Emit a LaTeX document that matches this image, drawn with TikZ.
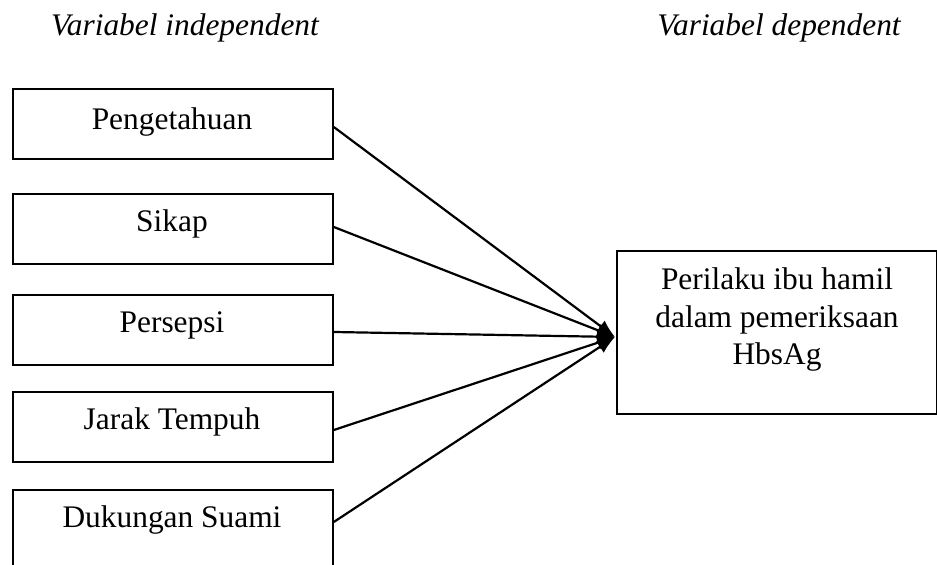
\documentclass[tikz,border=0pt]{standalone}
\usepackage{fontspec}
\setmainfont{Liberation Serif}
\usetikzlibrary{arrows.meta,calc}
\begin{document}
\begin{tikzpicture}[x=0.5pt,y=-0.5pt,
  box/.style={draw=black,line width=0.9pt,minimum width=160pt,minimum height=35pt,inner sep=0pt,anchor=north west},
  lbl/.style={anchor=base,inner sep=0pt,font=\fontsize{15.7}{18.75}\selectfont},
  hdr/.style={anchor=base,inner sep=0pt,font=\fontsize{15.7}{18.75}\selectfont\itshape},
  arr/.style={line width=1.1pt,-{Latex[length=9pt,width=7pt]}}]
\useasboundingbox (0,0) rectangle (937,565);
\clip (0,0) rectangle (937,565);
\node[hdr] (h1) at (185,36) {Variabel independent};
\node[hdr] (h2) at (779,36) {Variabel dependent};
\node[box] (b1) at (12,88) {};
\node[box] (b2) at (12,193) {};
\node[box] (b3) at (12,294) {};
\node[box] (b4) at (12,391) {};
\node[box,minimum height=55.5pt] (b5) at (12,489) {};
\node[lbl] (t1) at (172,130) {Pengetahuan};
\node[lbl] (t2) at (172,232) {Sikap};
\node[lbl] (t3) at (172,333) {Persepsi};
\node[lbl] (t4) at (172,430) {Jarak Tempuh};
\node[lbl] (t5) at (172,528) {Dukungan Suami};
\node[box,minimum height=81.5pt] (r) at (616,250) {};
\node[lbl,align=center] (rt) at (777,365) {Perilaku ibu hamil\\dalam pemeriksaan\\HbsAg};
\coordinate (tip) at (615,337);
\draw[arr] ($(b1.north east)+(0,39)$) -- (tip);
\draw[arr] ($(b2.north east)+(0,34)$) -- (tip);
\draw[arr] ($(b3.north east)+(0,38)$) -- (tip);
\draw[arr] ($(b4.north east)+(0,39)$) -- (tip);
\draw[arr] ($(b5.north east)+(0,33)$) -- (tip);
\end{tikzpicture}
\end{document}
